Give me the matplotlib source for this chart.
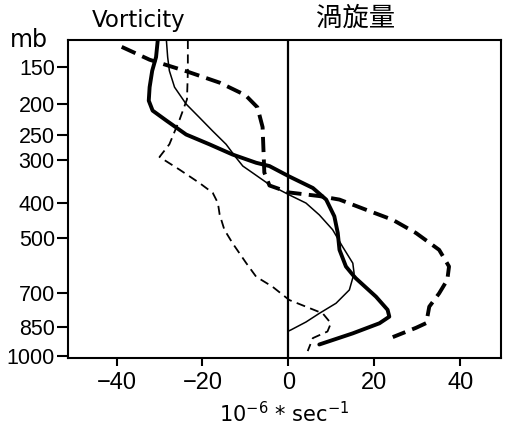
import numpy as np
import matplotlib
matplotlib.use("Agg")
import matplotlib.pyplot as plt
from matplotlib import font_manager

# ---- data (vorticity, 1e-6 s^-1, vs pressure, mb) ----
thick_solid_x = [-30.4, -30.8, -31.7, -32.3, -32.5, -31.6, -28.4, -23.8, -18.4, -13.0, -7.5, -4.4,
                 0.2, 5.7, 8.8, 10.7, 11.5, 11.9, 13.4, 15.0, 15.7, 20.4, 23.1, 23.5, 21.2, 15.0, 10.3, 7.2]
thick_solid_p = [121, 139, 155, 176, 195, 210, 226, 250, 268, 288, 305, 312,
                 335, 362, 391, 436, 485, 539, 597, 628, 641, 715, 772, 803, 834, 883, 917, 940]

thin_solid_x = [-28.4, -28.1, -27.7, -26.5, -23.8, -20.7, -17.6, -14.5, -12.2, -10.6, -8.3, -4.4,
                0.2, 4.1, 7.2, 10.3, 12.6, 15.0, 15.3, 14.2, 11.1, 7.2, 4.1, 0.6, 0.0]
thin_solid_p = [121, 139, 155, 176, 200, 221, 244, 268, 294, 312, 327, 354,
                379, 400, 432, 475, 528, 585, 622, 687, 743, 788, 828, 866, 872]

thick_dash_x = [-38.8, -32.3, -23.5, -16.0, -10.0, -7.2, -6.0, -5.8, -5.6, -4.4, 0.2, 7.2, 11.9,
                18.1, 24.3, 29.7, 35.1, 37.4, 37.0, 35.1, 32.8, 32.1, 29.7, 24.3]
thick_dash_p = [128, 142, 156, 170, 187, 205, 237, 278, 326, 356, 373, 382, 391,
                418, 446, 485, 539, 597, 647, 701, 758, 833, 856, 902]

thin_dash_x = [-23.4, -23.4, -23.6, -25.3, -27.7, -30.0, -25.3, -20.7, -17.6, -16.4, -16.0, -14.9,
               -13.0, -9.8, -7.5, -3.7, 0.2, 4.1, 8.0, 9.9, 9.1, 5.7, 4.5]
thin_dash_p = [121, 156, 193, 224, 268, 293, 320, 350, 374, 400, 431, 475,
               517, 585, 635, 674, 729, 758, 788, 834, 874, 907, 975]

p_ticks = [150, 200, 250, 300, 400, 500, 700, 850, 1000]
x_ticks = [-40, -20, 0, 20, 40]

# ---- fonts ----
tick_family = ["Liberation Sans", "DejaVu Sans"]

# ---- figure ----
W, H, DPI = 510, 436, 100
fig = plt.figure(figsize=(W / DPI, H / DPI), dpi=DPI)
ax = fig.add_axes([68 / W, 1 - 358 / H, (501 - 68) / W, (358 - 40) / H])

P0, K = 1013.25, 0.19
def fwd(p):
    p = np.asarray(p, dtype=float)
    return np.sign(p) * np.abs(p / P0) ** K
def inv(s):
    s = np.asarray(s, dtype=float)
    return P0 * np.sign(s) * np.abs(s) ** (1 / K)

ax.set_yscale("function", functions=(fwd, inv))

ax.plot(thick_solid_x, thick_solid_p, color="black", lw=2.8, solid_capstyle="round", solid_joinstyle="round")
ax.plot(thin_solid_x, thin_solid_p, color="black", lw=1.1, solid_joinstyle="round")
ax.plot(thick_dash_x, thick_dash_p, color="black", lw=2.8, dashes=(3.9, 1.9), dash_capstyle="butt")
ax.plot(thin_dash_x, thin_dash_p, color="black", lw=1.3, dashes=(5.0, 3.0))
ax.axvline(0, color="black", lw=1.6)

ax.set_xlim(-51.3, 49.5)
ax.set_ylim(1013, 121)
ax.set_yticks(p_ticks)
ax.set_yticklabels([str(v) for v in p_ticks])
ax.yaxis.set_minor_locator(matplotlib.ticker.NullLocator())
ax.set_xticks(x_ticks)
ax.set_xticklabels(["\u2212" + str(-v) if v < 0 else str(v) for v in x_ticks])

for s in ax.spines.values():
    s.set_linewidth(1.5)
ax.tick_params(axis="y", direction="out", length=8, width=1.5, pad=1.5)
ax.tick_params(axis="x", direction="out", length=6, width=1.5, pad=4)
for lab in ax.get_yticklabels():
    lab.set_fontfamily(tick_family)
    lab.set_fontsize(15.5)
for lab in ax.get_xticklabels():
    lab.set_fontfamily(tick_family)
    lab.set_fontsize(17)

fig.text(92 / W, 1 - 27 / H, "Vorticity", fontsize=16.5, family="DejaVu Sans", ha="left", va="baseline")
fig.text(10 / W, 1 - 47 / H, "mb", fontsize=17, family="DejaVu Sans", ha="left", va="baseline")
fig.text(356 / W, 1 - 18 / H, "渦旋量", fontsize=19, family=["Noto Sans CJK TC", "DejaVu Sans"],
         ha="center", va="center")
fig.text(284 / W, 1 - 422 / H, r"$\mathregular{10^{-6}}$ * sec$\mathregular{^{-1}}$", fontsize=15,
         family="DejaVu Sans", ha="center", va="baseline")

fig.savefig("out.png", dpi=DPI)
